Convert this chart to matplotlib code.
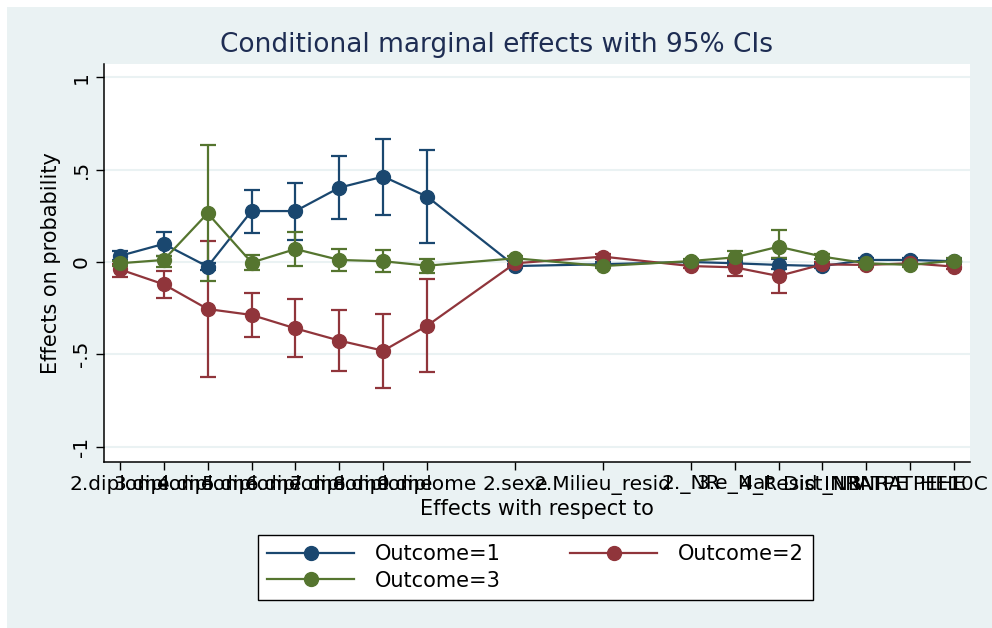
import matplotlib.pyplot as plt
from matplotlib.patches import Rectangle

# x positions (Stata spacing) and labels
xpos = [0, 1, 2, 3, 4, 5, 6, 7, 9, 11, 13, 14, 15, 16, 17, 18, 19]
xlabels = ['2.diplome', '3.diplome', '4.diplome', '5.diplome', '6.diplome',
           '7.diplome', '8.diplome', '9.diplome', '2.sexe', '2.Milieu_resid',
           '2._NR', '3.e_Nat', '4_Resid', 'Dist_NB', 'INRATPE',
           'INRATPEHE', 'HE10C']

# Outcome=1
y1 = [0.033, 0.098, -0.025, 0.276, 0.276, 0.403, 0.463, 0.354,
      -0.022, -0.012, 0.0, -0.007, -0.016, -0.022, 0.011, 0.011, 0.004]
lo1 = [0.01, 0.03, -0.045, 0.157, 0.12, 0.233, 0.256, 0.101,
       -0.035, -0.025, -0.012, -0.02, -0.04, -0.035, 0.0, 0.0, -0.008]
hi1 = [0.061, 0.163, -0.005, 0.39, 0.428, 0.573, 0.667, 0.607,
       -0.009, 0.001, 0.012, 0.006, 0.015, -0.009, 0.022, 0.022, 0.016]

# Outcome=2
y2 = [-0.04, -0.121, -0.255, -0.287, -0.36, -0.426, -0.481, -0.345,
      -0.007, 0.029, -0.022, -0.029, -0.076, -0.013, -0.016, -0.007, -0.025]
lo2 = [-0.08, -0.197, -0.623, -0.405, -0.517, -0.593, -0.681, -0.596,
       -0.02, 0.015, -0.035, -0.076, -0.17, -0.026, -0.028, -0.02, -0.038]
hi2 = [-0.011, -0.047, 0.114, -0.168, -0.2, -0.262, -0.28, -0.092,
       0.006, 0.043, -0.009, 0.018, 0.02, 0.0, -0.004, 0.006, -0.012]

# Outcome=3
y3 = [-0.007, 0.011, 0.264, -0.003, 0.07, 0.011, 0.004, -0.02,
      0.02, -0.022, 0.005, 0.025, 0.083, 0.029, -0.007, -0.016, 0.007]
lo3 = [-0.02, -0.025, -0.103, -0.043, -0.022, -0.047, -0.056, -0.058,
       0.007, -0.035, -0.008, -0.01, 0.02, 0.016, -0.02, -0.029, -0.006]
hi3 = [0.006, 0.033, 0.636, 0.037, 0.164, 0.07, 0.067, 0.015,
       0.033, -0.009, 0.018, 0.06, 0.173, 0.042, 0.006, -0.003, 0.02]

series = [(y1, lo1, hi1, '#1A476F', 'Outcome=1'),
          (y2, lo2, hi2, '#90353B', 'Outcome=2'),
          (y3, lo3, hi3, '#55752F', 'Outcome=3')]

W, H = 992, 628
bg = '#EAF2F3'
fig = plt.figure(figsize=(W / 100, H / 100), dpi=100, facecolor='white')
fig.patches.append(Rectangle((7 / W, 0), 1, 1 - 7 / H, transform=fig.transFigure,
                             facecolor=bg, edgecolor='none', zorder=-10))

ax = fig.add_axes([104 / W, (H - 462) / H, 866 / W, (462 - 64) / H])
ax.set_facecolor('white')

handles = []
for k, (y, lo, hi, c, lab) in enumerate(series):
    err = [[v - l for v, l in zip(y, lo)], [h - v for v, h in zip(y, hi)]]
    ax.errorbar(xpos, y, yerr=err, fmt='none', ecolor=c, elinewidth=1.6,
                capsize=6, capthick=1.6, zorder=2 + k)
for k, (y, lo, hi, c, lab) in enumerate(series):
    ln, = ax.plot(xpos, y, '-o', color=c, lw=1.6, ms=10, label=lab, zorder=5 + k)
    handles.append(ln)

ax.set_xlim(-0.36, 19.36)
ax.set_ylim(-1.084, 1.073)
ax.set_yticks([-1, -0.5, 0, 0.5, 1])
ax.set_yticklabels(['-1', '-.5', '0', '.5', '1'], rotation=90, va='center')
ax.set_xticks(xpos)
ax.set_xticklabels(xlabels)
ax.tick_params(axis='both', labelsize=14.5, length=6, width=1, direction='out')
ax.grid(axis='y', color=bg, lw=1.5, zorder=0)
ax.set_axisbelow(True)
for s in ['top', 'right']:
    ax.spines[s].set_visible(False)
for s in ['left', 'bottom']:
    ax.spines[s].set_linewidth(1.1)

ax.set_ylabel('Effects on probability', fontsize=15, labelpad=8)
ax.set_xlabel('Effects with respect to', fontsize=15, labelpad=3)
fig.text(0.5, 1 - 45 / H, 'Conditional marginal effects with 95% CIs',
         ha='center', va='center', fontsize=19, color='#1E2D53')

# row-major order like Stata: 1, 2 on first row, 3 on second
leg = fig.legend(handles=[handles[0], handles[2], handles[1]], loc='center', ncol=2,
                 bbox_to_anchor=((263 + 808) / 2 / W, 1 - (533 + 602) / 2 / H),
                 fontsize=15, frameon=True, fancybox=False, edgecolor='black',
                 facecolor='white', framealpha=1,
                 handlelength=4.2, handletextpad=1.0, columnspacing=3.3,
                 numpoints=1, borderpad=0.45, labelspacing=0.3)
leg.get_frame().set_linewidth(1.0)

fig.savefig('out.png', dpi=100, facecolor=fig.get_facecolor())
